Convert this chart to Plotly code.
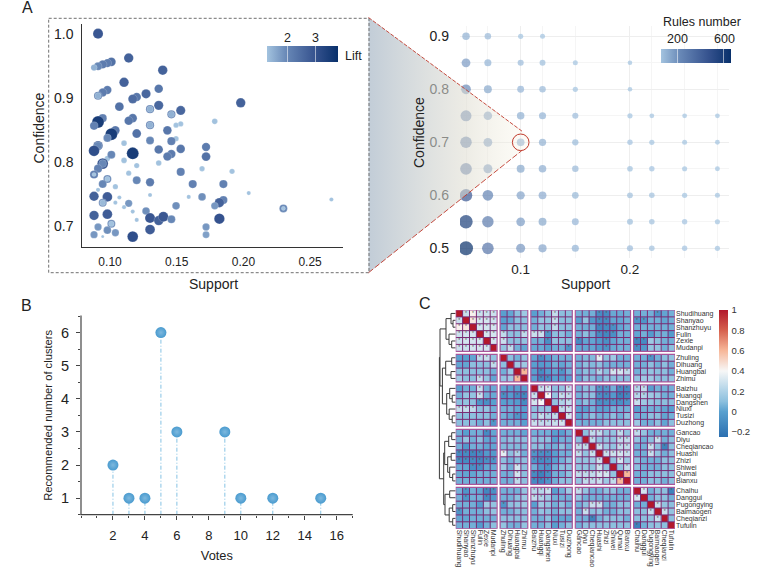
import numpy as np
import plotly.graph_objects as go

W, H = 760, 570
FONT = "Liberation Sans"
INK = "#222222"


def fx(px):
    return px / W


def fy(px):
    return 1 - px / H


# ---------- Panel A, left: rules at support >= 0.1 / confidence >= 0.7 ----------
rule_support = [
    .091, .114, .101, .098, .0945, .091, .088, .1395, .1105, .098, .0945, .091, .091, .1365, .127, .120, .117,
    .107, .1365, .130, .130, .153, .146, .146, .198, .0945, .091, .088, .117, .114, .1785, .153, .1495, .130,
    .130, .104, .101, .098, .143, .120, .1495, .146, .1105, .130, .091, .091, .088, .1365, .153, .172, .117,
    .146, .143, .172, .098, .0945, .0945, .091, .101, .1105, .1365, .120, .169, .1915, .153, .114, .088, .088,
    .098, .098, .0945, .120, .130, .104, .091, .162, .185, .204, .130, .159, .169, .088, .098, .107, .0945,
    .0945, .104, .114, .266, .185, .182, .1785, .230, .230, .1495, .1105, .127, .117, .088, .098, .130, .1365,
    .140, .146, .182, .120, .101, .101, .091, .098, .172, .130, .088, .104, .172, .117, .0945,
]
rule_confidence = [
    1.000, .962, .956, .954, .952, .949, .947, .943, .924, .912, .908, .903, .903, .914, .906, .901, .898,
    .886, .888, .882, .882, .880, .874, .874, .892, .868, .862, .856, .868, .864, .863, .859, .857, .857,
    .857, .849, .843, .837, .849, .844, .836, .832, .829, .833, .825, .825, .817, .819, .820, .823, .813,
    .812, .808, .808, .805, .797, .797, .789, .811, .802, .798, .794, .789, .785, .784, .782, .780, .780,
    .773, .773, .765, .771, .768, .761, .756, .765, .765, .751, .748, .745, .745, .746, .745, .744, .736,
    .736, .736, .735, .741, .740, .736, .731, .727, .727, .731, .729, .723, .722, .716, .718, .712, .708,
    .714, .710, .711, .709, .703, .703, .698, .693, .698, .694, .686, .689, .686, .683, .683,
]
rule_lift = [
    2.9, 2.7, 2.4, 2.2, 2.2, 2.0, 1.5, 2.7, 2.7, 2.2, 2.2, 2.1, 1.5, 2.3, 2.6, 2.3, 2.5,
    2.4, 2.6, 2.1, 1.5, 2.6, 2.1, 1.5, 2.7, 2.1, 3.5, 2.1, 2.3, 2.3, 1.3, 1.2, 1.2, 2.1,
    1.5, 2.3, 3.5, 2.0, 2.3, 2.4, 1.2, 2.1, 1.3, 2.0, 2.7, 2.0, 3.1, 2.3, 2.3, 2.2, 3.5,
    2.2, 2.2, 2.4, 1.3, 3.1, 2.0, 2.1, 2.0, 1.3, 1.3, 1.2, 1.2, 1.2, 2.1, 1.2, 2.1, 1.1,
    2.0, 1.2, 2.0, 2.0, 2.2, 1.2, 1.1, 2.1, 2.1, 1.1, 1.1, 1.1, 1.9, 2.7, 2.8, 1.1, 2.0,
    1.4, 1.1, 1.8, 1.1, 2.1, 2.7, 1.8, 2.0, 1.1, 1.9, 1.1, 1.9, 1.1, 2.7, 2.8, 2.9, 2.7,
    2.9, 2.0, 3.0, 1.1, 2.0, 1.3, 1.8, 1.9, 1.8, 2.8, 1.8, 1.8, 1.7, 3.1, 1.0,
]
lift_ticks = [2, 3]

# ---------- Panel A, right: number of rules per threshold pair ----------
grid_support = [0.05, 0.07, 0.10, 0.12, 0.15, 0.20, 0.22, 0.25, 0.28]
grid_confidence = [0.90, 0.85, 0.80, 0.75, 0.70, 0.65, 0.60, 0.55, 0.50]
rules_number = [
    [110, 85, 50, 45, None, None, None, None, None],
    [170, 100, 75, 70, 45, 35, None, None, None],
    [215, 130, 95, 85, 50, 35, None, None, None],
    [260, 160, 110, 100, 75, 50, 40, 40, 40],
    [280, 170, 120, 105, 80, 55, 50, 45, 42],
    [310, 180, 130, 115, 85, 62, 55, 48, 44],
    [450, 250, 145, 125, 90, 65, 60, 52, 46],
    [570, 280, 165, 130, 95, 70, 60, 55, 48],
    [660, 310, 180, 140, 100, 75, 60, 55, 50],
]
rules_ticks = [200, 600]

# ---------- Panel B: votes for each cluster count ----------
votes = [2, 3, 4, 5, 6, 9, 10, 12, 15]
recommended_clusters = [2, 1, 1, 6, 3, 3, 1, 1, 1]

# ---------- Panel C: herb correlation matrix, one list per block of the lower triangle ----------
herb_groups = [
    ["Shudihuang", "Shanyao", "Shanzhuyu", "Fulin", "Zexie", "Mudanpi"],
    ["Zhuling", "Dihuang", "Huangbai", "Zhimu"],
    ["Baizhu", "Huangqi", "Dangshen", "Niuxi", "Tusizi", "Duzhong"],
    ["Gancao", "Diyu", "Cheqiancao", "Huashi", "Zhizi", "Shiwei", "Qumai", "Bianxu"],
    ["Chaihu", "Danggui", "Pugongying", "Baimaogen", "Cheqianzi", "Tufulin"],
]
corr_11 = [[1, .27, .42, .28, .28, .28], [.27, 1, .45, .3, .3, .28], [.42, .45, 1, .3, .3, .3],
           [.28, .3, .3, 1, .3, .3], [.28, .3, .3, .3, 1, .3], [.28, .28, .3, .3, .3, 1]]
corr_21 = [[0, 0, .02, .25, .27, .12], [.02, .02, .1, .1, .1, .25], [.1, .1, .1, .1, .1, .05], [.15, .1, .1, .25, .12, .02]]
corr_22 = [[1, .1, .05, .12], [.1, 1, .15, .15], [.05, .15, 1, .6], [.12, .15, .6, 1]]
corr_31 = [[0, .05, .05, .27, .05, .03], [.05, .12, .12, .27, .05, .03], [.1, .12, .1, -.05, -.08, 0],
           [.26, .26, .25, .1, .12, .05], [.1, .1, .1, .1, .1, .05], [.1, .1, .1, .05, .1, -.05]]
corr_32 = [[.02, 0, .0, .0], [-.08, -.02, -.1, -.12], [0, 0, -.02, -.1], [.05, .05, .02, 0], [.05, .02, -.05, -.02], [.05, .05, .05, 0]]
corr_33 = [[1, .27, .3, .1, .12, .27], [.27, 1, .4, .12, .26, .25], [.3, .4, 1, .12, .2, .25],
           [.1, .12, .12, 1, .25, .27], [.12, .26, .2, .25, 1, .3], [.27, .25, .25, .27, .3, 1]]
corr_41 = [[.05, 0, .05, .05, -.1, .02], [.05, .12, .05, .1, .02, .02], [.05, -.03, .05, .05, .02, .02],
           [-.1, -.1, -.12, -.1, -.03, -.03], [-.1, -.1, -.1, -.12, -.08, -.06], [.03, .02, -.08, -.08, .02, .03],
           [.03, .02, .02, .05, .05, .05], [.05, .05, .05, .05, .05, .05]]
corr_42 = [[.05, .05, .05, .02], [.08, .1, .1, .1], [.08, .08, .08, .08], [.35, .1, .2, .05],
           [.1, .05, .1, .1], [.15, .05, .3, .1], [.05, .05, .3, .1], [.05, .05, .25, .1]]
corr_43 = [[.05, .05, .05, 0, 0, .05], [.1, .1, .1, 0, .05, .05], [.1, .1, .05, .05, .1, .05],
           [-.05, -.08, -.08, 0, .05, .05], [-.05, -.1, -.08, 0, .05, .1], [.05, -.03, -.05, .05, .1, .1],
           [-.1, -.15, -.08, .05, .05, .1], [-.1, -.12, -.05, .05, .1, .1]]
corr_44 = [[1, .1, .25, .25, .12, .12, .25, .12], [.1, 1, .25, .12, .12, .12, .25, .25],
           [.25, .25, 1, .27, .15, .12, .25, .25], [.25, .12, .27, 1, .27, .28, .3, .27],
           [.12, .12, .15, .27, 1, .12, .3, .15], [.12, .12, .12, .28, .12, 1, .12, .25],
           [.25, .25, .25, .3, .3, .12, 1, .6], [.12, .25, .25, .27, .15, .25, .6, 1]]
corr_51 = [[.05, -.05, .05, .02, -.12, -.08], [.05, -.05, .05, .05, -.1, -.03], [.05, .05, .05, -.02, .15, .12],
           [-.05, .05, .05, .05, .1, .12], [.02, .02, .05, .05, .05, .05], [.05, .05, .05, -.02, .05, .1]]
corr_52 = [[.05, .05, .05, .12], [.05, .05, .1, .15], [-.05, .1, .12, .15], [.05, .05, .1, .1], [.1, .1, .1, .1], [.12, .05, .05, .12]]
corr_53 = [[.22, .22, .27, 0, .05, .15], [.25, .2, .15, .05, .05, .05], [0, .15, .12, .05, .1, .05],
           [.05, .12, .1, .05, .1, .1], [.05, .05, .1, .02, .02, .02], [.05, .05, .1, 0, .05, .1]]
corr_54 = [[.25, .12, .05, .05, .1, .1, .05, .05], [.12, .05, .05, .05, .05, .05, .05, .05],
           [.05, .1, .27, .27, .05, .05, .1, .1], [.05, .27, .1, .12, .05, .05, .1, .1],
           [.05, .05, -.15, .05, .1, .1, .1, .05], [.05, .1, .1, .1, .1, .1, .1, .1]]
corr_55 = [[1, .3, .05, .1, .1, -.15], [.3, 1, .05, .1, .1, .05], [.05, .05, 1, .27, .12, .1],
           [.1, .1, .27, 1, .27, .12], [.1, .1, .12, .27, 1, .1], [-.15, .05, .1, .12, .1, 1]]
corr_ticks = [-0.2, 0, 0.2, 0.4, 0.6, 0.8, 1]

# Hierarchical clustering of the herbs: (merge height, branch, branch), leaves are row numbers
herb_tree = (16.3,
             (15.7,
              (9.7, (4.7, 0, (2.7, 1, 2)), (6.7, 3, (4.0, 4, 5))),
              (13.3,
               (10.0, (4.0, 6, 7), (4.7, 8, 9)),
               (9.0, (6.0, 10, (3.5, 11, 12)), (6.5, 13, (3.5, 14, 15))))),
             (12.0,
              (11.0,
               (7.0, (4.0, 16, 17), 18),
               (8.0, (4.5, 19, 20), (6.0, 21, (3.0, 22, 23)))),
              (10.7, (6.0, 24, 25), (6.5, (3.0, 26, 27), (3.0, 28, 29)))))

BLUES = [[0, "#a3c3df"], [0.28, "#6787b6"], [0.68, "#35528e"], [1, "#08306b"]]
LIFT_RANGE = (1.29, 3.8)
RULES_RANGE = (53, 660)

fig = go.Figure()

# Panel A, left
lift = np.array(rule_lift)
fig.add_trace(go.Scatter(
    x=rule_support, y=rule_confidence, mode="markers", xaxis="x", yaxis="y", showlegend=False,
    marker=dict(
        color=lift, colorscale=BLUES, cmin=LIFT_RANGE[0], cmax=LIFT_RANGE[1],
        size=np.interp(lift, [1.0, 1.2, 1.5, 2, 2.7, 3.5], [3, 5.3, 6.3, 8, 9.5, 12]),
        opacity=1, line=dict(color="rgba(255,255,255,0.35)", width=0.5),
        colorbar=dict(
            orientation="h", x=fx(267), xanchor="left", y=fy(46), yanchor="top", xref="paper", yref="paper",
            len=71, lenmode="pixels", thickness=16, outlinewidth=0, xpad=0, ypad=0,
            tickvals=lift_ticks, ticks="inside", ticklen=16, tickcolor="rgba(255,255,255,0.55)", tickwidth=1,
            showticklabels=False,
        ),
    ),
))

# Panel A, right
gx, gy, gr = [], [], []
for cf, row in zip(grid_confidence, rules_number):
    for sp, n in zip(grid_support, row):
        if n is not None:
            gx.append(sp)
            gy.append(cf)
            gr.append(n)
gr = np.array(gr)
fig.add_trace(go.Scatter(
    x=gx, y=gy, mode="markers", xaxis="x2", yaxis="y2", showlegend=False,
    marker=dict(
        color=gr, colorscale=BLUES, cmin=RULES_RANGE[0], cmax=RULES_RANGE[1],
        size=np.interp(gr, [35, 50, 85, 110, 170, 215, 280, 450, 660], [4.6, 5.2, 6.5, 7.5, 8.8, 9.7, 11.5, 12.5, 14]),
        line=dict(width=0),
        colorbar=dict(
            orientation="h", x=fx(660.7), xanchor="left", y=fy(49.3), yanchor="top", xref="paper", yref="paper",
            len=70.3, lenmode="pixels", thickness=14, outlinewidth=0, xpad=0, ypad=0,
            tickvals=rules_ticks, ticks="inside", ticklen=14, tickcolor="rgba(255,255,255,0.55)", tickwidth=1,
            showticklabels=False,
        ),
    ),
))

# Panel B: stems run from each point down to the axis
stem_x, stem_y = [], []
for v, c in zip(votes, recommended_clusters):
    stem_x += [v, v, None]
    stem_y += [0.5, c, None]
fig.add_trace(go.Scatter(
    x=stem_x, y=stem_y, mode="lines", xaxis="x3", yaxis="y3", showlegend=False,
    line=dict(color="#86c3e4", width=1, dash="4px,2px,1px,2px"),
))
fig.add_trace(go.Scatter(
    x=votes, y=recommended_clusters, mode="markers", xaxis="x3", yaxis="y3", showlegend=False,
    marker=dict(size=11, color="#4a9bcf", line=dict(width=0),
                gradient=dict(type="radial", color="#7db8de")),
))

# Panel C: assemble the symmetric matrix and leave spacer rows between groups
blocks = [
    [corr_11, np.transpose(corr_21), np.transpose(corr_31), np.transpose(corr_41), np.transpose(corr_51)],
    [corr_21, corr_22, np.transpose(corr_32), np.transpose(corr_42), np.transpose(corr_52)],
    [corr_31, corr_32, corr_33, np.transpose(corr_43), np.transpose(corr_53)],
    [corr_41, corr_42, corr_43, corr_44, np.transpose(corr_54)],
    [corr_51, corr_52, corr_53, corr_54, corr_55],
]
sizes = [len(g) for g in herb_groups]
herbs = [h for g in herb_groups for h in g]
GROUP_GAP = 0.445
edges, centers, spans = [], [], []
pos = 0.0
for k, n in enumerate(sizes):
    spans.append((pos, pos + n))
    for i in range(n):
        edges.append(pos + i)
        centers.append(pos + i + 0.5)
    pos += n
    edges.append(pos)
    pos += GROUP_GAP
n_cells = len(edges) - 1
z = np.full((n_cells, n_cells), np.nan)
slot = []
cursor = 0
for n in sizes:
    slot.append(cursor)
    cursor += n + 1
for r, row in enumerate(blocks):
    for c, block in enumerate(row):
        arr = np.asarray(block, float)
        z[slot[r]:slot[r] + arr.shape[0], slot[c]:slot[c] + arr.shape[1]] = arr

fig.add_trace(go.Heatmap(
    x=edges, y=edges, z=z, xaxis="x4", yaxis="y4", hoverongaps=False,
    zmin=-0.25, zmax=1,
    colorscale=[[0, "#2b6fb0"], [0.2, "#58a0cf"], [0.28, "#8cc0de"], [0.36, "#aed2e7"], [0.52, "#f7f7f7"],
                [0.68, "#f7b799"], [0.84, "#d6604d"], [1, "#b2182b"]],
    colorbar=dict(
        x=fx(719.3), xanchor="left", y=fy(310), yanchor="top", xref="paper", yref="paper",
        len=127.3, lenmode="pixels", thickness=9, outlinewidth=0, xpad=0, ypad=0,
        tickvals=corr_ticks, ticks="outside", ticklen=2, tickcolor="rgba(0,0,0,0)",
        tickfont=dict(size=9.5, color="#333333", family=FONT),
    ),
))

# Purple cell borders inside each block of the matrix
line_x, line_y = [], []
for (y0, y1) in spans:
    for (x0, x1) in spans:
        for v in np.arange(x0 + 1, x1):
            line_x += [v, v, None]
            line_y += [y0, y1, None]
        for v in np.arange(y0 + 1, y1):
            line_x += [x0, x1, None]
            line_y += [v, v, None]
fig.add_trace(go.Scatter(
    x=line_x, y=line_y, mode="lines", xaxis="x4", yaxis="y4", showlegend=False,
    line=dict(color="#7a2a72", width=1), hoverinfo="skip",
))

# Significance stars on the notably high or negative correlations
full = np.block([[np.asarray(b, float) for b in row] for row in blocks])
star_x, star_y = [], []
for i in range(full.shape[0]):
    for j in range(full.shape[1]):
        if i != j and (full[i, j] >= 0.2 or full[i, j] <= -0.05):
            star_x.append(centers[j])
            star_y.append(centers[i])
fig.add_trace(go.Scatter(
    x=star_x, y=star_y, mode="text", text=["*"] * len(star_x), xaxis="x4", yaxis="y4", showlegend=False,
    textposition="middle center", textfont=dict(size=5, color="#555555", family=FONT), hoverinfo="skip",
))

# Dendrogram
den_x, den_y = [], []


def walk(node):
    if isinstance(node, int):
        return centers[node], 0.0
    h, a, b = node
    ya, ha = walk(a)
    yb, hb = walk(b)
    den_x.extend([ha, h, h, hb, None])
    den_y.extend([ya, ya, yb, yb, None])
    return (ya + yb) / 2, h


walk(herb_tree)
fig.add_trace(go.Scatter(
    x=den_x, y=den_y, mode="lines", xaxis="x5", yaxis="y5", showlegend=False,
    line=dict(color="#3a3a3a", width=1), hoverinfo="skip",
))

# Zoom wedge, laid over the right-hand grid on a full-page axis pair
fig.add_trace(go.Scatter(
    x=[368.5, 522.7, 530, 530, 521.7, 368.5, 368.5], y=[17.5, 131.7, 136, 146, 150.7, 272.7, 17.5],
    mode="lines", xaxis="x6", yaxis="y6", showlegend=False, hoverinfo="skip",
    line=dict(width=0), fill="toself",
    fillgradient=dict(type="horizontal", start=368.5, stop=525,
                      colorscale=[[0, "rgba(170,185,200,0.72)"], [0.62, "rgba(222,220,208,0.55)"],
                                  [1, "rgba(248,244,228,0.3)"]]),
))

cell_rects = []
for r, (y0, y1) in enumerate(spans):
    for c, (x0, x1) in enumerate(spans):
        cell_rects.append(dict(
            type="rect", xref="x4", yref="y4", x0=x0, x1=x1, y0=y0, y1=y1,
            layer="above", line=dict(color="#a9559a", width=1.2),
        ))

# Spines of the vote plot, placed on the page-wide axes so they are never clipped
spines = [
    dict(type="line", xref="x6", yref="y6", x0=80.5, x1=352.7, y0=514.7, y1=514.7, line=dict(color="#444444", width=1.2)),
    dict(type="line", xref="x6", yref="y6", x0=81, x1=81, y0=315.5, y1=515, line=dict(color="#444444", width=1.2)),
]

RED = "#c0392b"
overlay = [
    dict(type="rect", xref="x6", yref="y6", x0=48.7, x1=369, y0=18.3, y1=272.7,
         line=dict(color="#707070", width=1, dash="3px,2px")),
    dict(type="line", xref="x6", yref="y6", x0=368.5, y0=17.5, x1=522.7, y1=131.7,
         line=dict(color=RED, width=0.9, dash="4px,1.5px")),
    dict(type="line", xref="x6", yref="y6", x0=368.5, y0=272.7, x1=521.7, y1=150.7,
         line=dict(color=RED, width=0.9, dash="6px,2px")),
    dict(type="circle", xref="x6", yref="y6", x0=512.4, x1=529, y0=134, y1=150.6,
         line=dict(color=RED, width=1)),
]


def domain(a, b, size):
    return [a / size, b / size]


def ydomain(top, bottom):
    return [1 - bottom / H, 1 - top / H]


tick_a = dict(size=14, color=INK, family=FONT)
axis_off = dict(visible=False, showgrid=False, zeroline=False)
CLEAR = "rgba(0,0,0,0)"

fig.update_layout(
    width=W, height=H, margin=dict(l=0, r=0, t=0, b=0), autosize=False,
    paper_bgcolor="white", plot_bgcolor=CLEAR, font=dict(family=FONT, color=INK), showlegend=False,
    shapes=cell_rects + spines + overlay,
    # Panel A, left
    xaxis=dict(domain=domain(82.3, 343, W), anchor="y", range=[0.0792, 0.2747], showgrid=False, zeroline=False,
               showline=True, linecolor="#333333", linewidth=1, tickvals=[0.10, 0.15, 0.20, 0.25], tickformat=".2f",
               ticks="", tickfont=dict(size=12, color=INK, family=FONT), ticklabelstandoff=4),
    yaxis=dict(domain=ydomain(24, 246.7), anchor="x", range=[0.6672, 1.0151], showgrid=False, zeroline=False,
               showline=True, linecolor="#333333", linewidth=1, tickvals=[0.7, 0.8, 0.9, 1.0], tickformat=".1f",
               ticks="", tickfont=tick_a, ticklabelstandoff=5),
    # Panel A, right
    xaxis2=dict(domain=domain(460, 729, W), anchor="y2", range=[0.0445, 0.2906], showline=False, zeroline=False,
                showgrid=True, gridcolor="#eeeeee", gridwidth=1, tickvals=[0.1, 0.2], ticktext=["0.1", "0.2"],
                minor=dict(tickvals=[0.05, 0.07, 0.12, 0.15, 0.22, 0.25, 0.28], showgrid=True, gridcolor="#f5f5f5", ticks=""),
                ticks="", tickfont=dict(size=13.5, color=INK, family=FONT), ticklabelstandoff=1),
    yaxis2=dict(domain=ydomain(26, 258), anchor="x2", range=[0.4817, 0.9194], showline=False, zeroline=False,
                showgrid=True, gridcolor="#eeeeee", gridwidth=1, tickvals=[0.5, 0.6, 0.7, 0.8, 0.9], tickformat=".1f",
                minor=dict(tickvals=[0.55, 0.65, 0.75, 0.85], showgrid=True, gridcolor="#f5f5f5", ticks=""),
                ticks="", tickfont=tick_a, ticklabelstandoff=10),
    # Panel B
    xaxis3=dict(domain=domain(81, 352.7, W), anchor="y3", range=[0, 17], showgrid=False, zeroline=False,
                showline=False, tickvals=list(range(2, 17, 2)),
                ticks="outside", ticklen=4, tickcolor="#444444", tickwidth=1,
                minor=dict(tick0=0, dtick=1, ticks="outside", ticklen=2, tickcolor="#444444"),
                tickfont=dict(size=13, color=INK, family=FONT), ticklabelstandoff=5,
                title=dict(text="Votes", standoff=8, font=dict(size=12.8, color=INK, family=FONT))),
    yaxis3=dict(domain=ydomain(316, 514.7), anchor="x3", range=[0.5, 6.5], showgrid=False, zeroline=False,
                showline=False, tickvals=[1, 2, 3, 4, 5, 6],
                ticks="outside", ticklen=4, tickcolor="#444444", tickwidth=1,
                minor=dict(tick0=0.5, dtick=0.5, ticks="outside", ticklen=2, tickcolor="#444444"),
                tickfont=dict(size=14.5, color=INK, family=FONT), ticklabelstandoff=4,
                title=dict(text="Recommended number of clusters", standoff=6, font=dict(size=11.2, color=INK, family=FONT))),
    # Panel C
    xaxis4=dict(domain=domain(455.7, 675, W), anchor="y4", range=[edges[0], edges[-1]], showgrid=False, zeroline=False,
                showline=False, tickvals=centers, ticktext=herbs, tickangle=90, ticks="",
                tickfont=dict(size=7, color="#333333", family=FONT), automargin=False),
    yaxis4=dict(domain=ydomain(310, 528.7), anchor="x4", side="right", range=[edges[-1], edges[0]], showgrid=False,
                zeroline=False, showline=False, tickvals=centers, ticktext=herbs, ticks="",
                tickfont=dict(size=7, color="#333333", family=FONT), automargin=False),
    xaxis5=dict(axis_off, domain=domain(432, 455.7, W), anchor="y5", range=[23.7, 0]),
    yaxis5=dict(axis_off, domain=ydomain(310, 528.7), anchor="x5", range=[edges[-1], edges[0]]),
    # Page-wide axes for the zoom wedge and the spines
    xaxis6=dict(axis_off, domain=[0, 1], anchor="y6", range=[0, W]),
    yaxis6=dict(axis_off, domain=[0, 1], anchor="x6", range=[H, 0]),
)


def caption(text, x, y, size=14, angle=0):
    fig.add_annotation(text=text, x=fx(x), y=fy(y), xref="paper", yref="paper", showarrow=False,
                       xanchor="center", yanchor="middle", textangle=angle,
                       font=dict(size=size, color=INK, family=FONT))


def bar_label(value, span, left_px, width_px, y):
    # Legend labels sit above the horizontal colour bars, at the bar's own scale
    px = left_px + (value - span[0]) / (span[1] - span[0]) * width_px
    caption(str(value), px, y, 12.5)


caption("A", 27.7, 7.5, 16)
caption("B", 26, 305, 16)
caption("C", 425, 303, 16)
caption("Support", 213.3, 283.7)
caption("Confidence", 38.5, 128, angle=-90)
caption("Support", 585.7, 283.7)
caption("Confidence", 419, 133, angle=-90)
for tick in lift_ticks:
    bar_label(tick, LIFT_RANGE, 267, 71, 37.7)
caption("Lift", 353, 55.7, 12.5)
for tick in rules_ticks:
    bar_label(tick, RULES_RANGE, 660.7, 70.3, 39)
caption("Rules number", 702, 21.7, 12.5)

fig.write_html("out.html")
